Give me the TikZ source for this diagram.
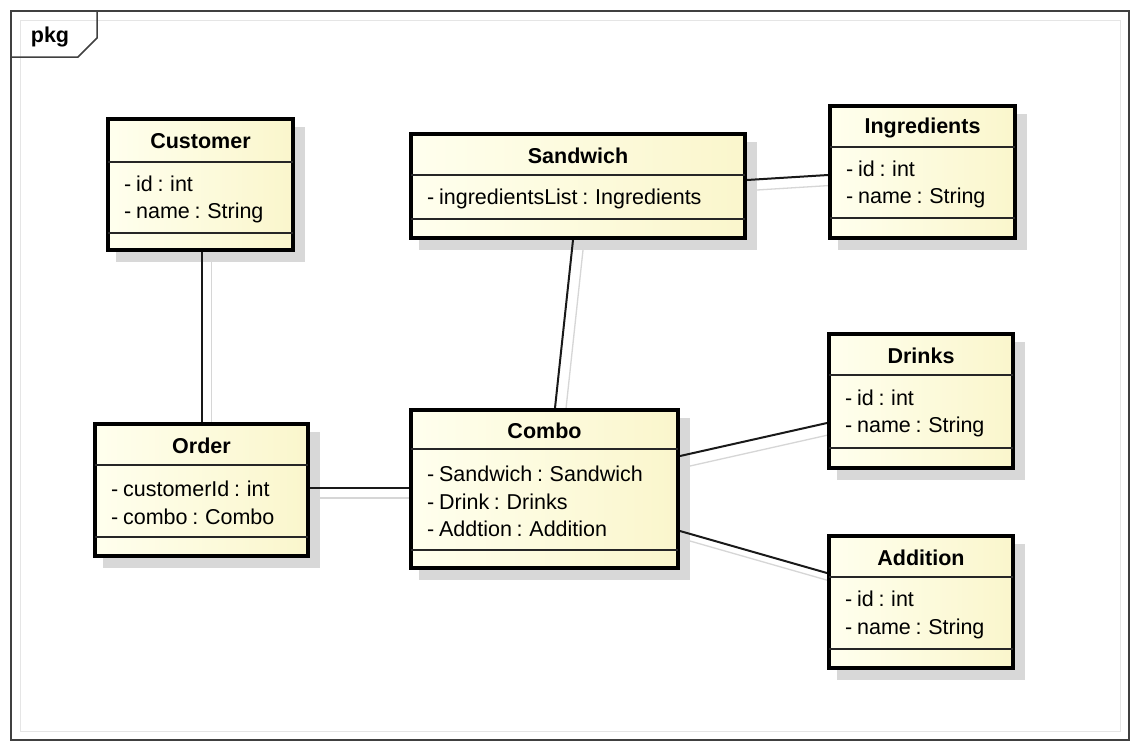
\documentclass[tikz,border=0pt]{standalone}
\usepackage{fontspec}
\setmainfont{Liberation Sans}
\usetikzlibrary{fit}
\pgfdeclarelayer{bg}
\pgfsetlayers{bg,main}
\definecolor{boxleft}{RGB}{255,255,238}
\definecolor{boxright}{RGB}{250,246,204}
\definecolor{shadowgray}{RGB}{216,216,216}
\definecolor{lineshadow}{RGB}{214,214,214}
\newcommand\narrowspaces{\spaceskip=0.22em\relax}
\tikzset{
  classbox/.style={draw=black, line width=4pt, left color=boxleft, right color=boxright, inner sep=0pt},
  divider/.style={draw=black!85, line width=1.6pt},
  boxshadow/.style={fill=shadowgray},
  classtitle/.style={font=\fontsize{21.5}{25}\selectfont\bfseries, inner sep=0pt},
  classattrs/.style={font=\fontsize{21.5}{27.5}\selectfont, execute at begin node=\narrowspaces, align=left, inner sep=0pt, anchor=west},
  link/.style={draw=black!90, line width=2pt},
  linkshadow/.style={draw=lineshadow, line width=1.3pt, transform canvas={xshift=10pt,yshift=-10pt}},
  frame/.style={draw=black!75, line width=1.5pt},
}
% \umlclass{name}{left}{top}{right}{bottom}{title divider}{attribute divider}{title}{attributes}
\newcommand\umlclass[9]{%
  \begin{pgfonlayer}{bg}
    \fill[boxshadow] (#2+10,#3+10) rectangle (#4+10,#5+10);
  \end{pgfonlayer}
  \node[classbox, fit={(#2+2,#3+2) (#4-2,#5-2)}] (#1) {};
  \draw[divider] (#2+2,#6) -- (#4-2,#6);
  \draw[divider] (#2+2,#7) -- (#4-2,#7);
  \node[classtitle] (#1-title) at ({(#2+#4)/2},{(#3+#6)/2+2}) {#8};
  \node[classattrs] (#1-attrs) at (#2+18,{(#6+#7)/2+2}) {#9};
}
\begin{document}
\begin{tikzpicture}[x=1pt, y=-1pt]
  \useasboundingbox (0,0) rectangle (1131,742);
  \begin{pgfonlayer}{bg}
    \fill[white] (0,0) rectangle (1131,742);
  \end{pgfonlayer}

  % package frame and its name tab
  \draw[draw=black!10, line width=1pt] (20,20) rectangle (1120,731);
  \draw[frame] (11,11) rectangle (1129,740);
  \draw[frame] (97,11) -- (97,38) -- (78,57) -- (11,57);
  \node[classtitle] (pkg) at (50,37) {pkg};

  % classes
  \umlclass{customer}{106}{117}{295}{252}{162}{233}{Customer}{- id : int\\- name : String}
  \umlclass{sandwich}{409}{132}{747}{240}{175}{219}{Sandwich}{- ingredientsList : Ingredients}
  \umlclass{ingredients}{828}{104}{1017}{240}{147}{218}{Ingredients}{- id : int\\- name : String}
  \umlclass{order}{93}{422}{310}{558}{465}{537}{Order}{- customerId : int\\- combo : Combo}
  \umlclass{combo}{409}{408}{680}{570}{449}{550}{Combo}{- Sandwich : Sandwich\\- Drink : Drinks\\- Addtion : Addition}
  \umlclass{drinks}{827}{332}{1015}{470}{375}{448}{Drinks}{- id : int\\- name : String}
  \umlclass{addition}{827}{534}{1015}{670}{577}{649}{Addition}{- id : int\\- name : String}

  % associations, each with its soft drop shadow
  \begin{pgfonlayer}{bg}
    \coordinate (custbottom) at (order.north |- customer.south);
    \coordinate (ordright) at ([yshift=2pt]order.east);
    \coordinate (combleft) at (ordright -| combo.west);

    \draw[linkshadow] (custbottom) -- (order.north);
    \draw[linkshadow] ([xshift=-5pt]sandwich.south) -- ([xshift=10.5pt]combo.north);
    \draw[linkshadow] ([yshift=6pt]sandwich.east) -- ([yshift=-3pt]ingredients.west);
    \draw[linkshadow] (ordright) -- (combleft);
    \draw[linkshadow] ([yshift=33pt]combo.east) -- ([yshift=-22pt]drinks.west);
    \draw[linkshadow] ([yshift=-42pt]combo.east) -- ([yshift=29pt]addition.west);

    \draw[link] (custbottom) -- (order.north);
    \draw[link] ([xshift=-5pt]sandwich.south) -- ([xshift=10.5pt]combo.north);
    \draw[link] ([yshift=6pt]sandwich.east) -- ([yshift=-3pt]ingredients.west);
    \draw[link] (ordright) -- (combleft);
    \draw[link] ([yshift=33pt]combo.east) -- ([yshift=-22pt]drinks.west);
    \draw[link] ([yshift=-42pt]combo.east) -- ([yshift=29pt]addition.west);
  \end{pgfonlayer}
\end{tikzpicture}
\end{document}
